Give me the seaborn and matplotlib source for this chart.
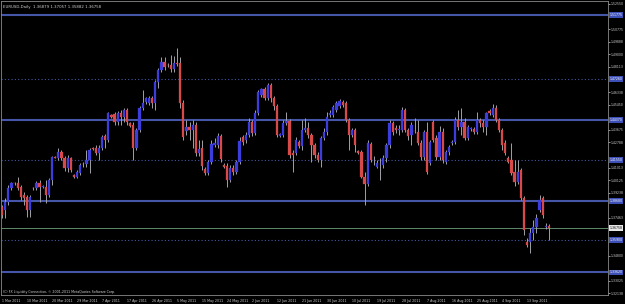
import numpy as np
import pandas as pd
import matplotlib
matplotlib.use("Agg")
import matplotlib.pyplot as plt
import matplotlib.transforms as mtransforms
import seaborn as sns

# ---------------- data (EURUSD, Daily) ----------------
opens = [1.3824, 1.3803, 1.3859, 1.3958, 1.3993, 1.3993, 1.3965, 1.3909, 1.3895, 1.3803,
         1.3958, 1.3958, 1.3993, 1.3965, 1.3965, 1.3909, 1.4014, 1.4176, 1.4169, 1.4212,
         1.4169, 1.4099, 1.4169, 1.4050, 1.4036, 1.4064, 1.4127, 1.4127, 1.4155, 1.4240,
         1.4240, 1.4205, 1.4240, 1.4324, 1.4296, 1.4472, 1.4480, 1.4423, 1.4487, 1.4458,
         1.4508, 1.4416, 1.4402, 1.4240, 1.4367, 1.4522, 1.4564, 1.4557, 1.4592, 1.4557,
         1.4705, 1.4790, 1.4846, 1.4825, 1.4825, 1.4797, 1.4839, 1.4839, 1.4557, 1.4360,
         1.4388, 1.4367, 1.4402, 1.4205, 1.4240, 1.4092, 1.4064, 1.4141, 1.4261, 1.4261,
         1.4324, 1.4120, 1.4113, 1.4014, 1.4099, 1.4071, 1.4141, 1.4317, 1.4296, 1.4331,
         1.4423, 1.4346, 1.4487, 1.4613, 1.4656, 1.4592, 1.4684, 1.4592, 1.4536, 1.4324,
         1.4331, 1.4416, 1.4430, 1.4205, 1.4205, 1.4282, 1.4254, 1.4367, 1.4381, 1.4331,
         1.4261, 1.4191, 1.4155, 1.4310, 1.4353, 1.4472, 1.4472, 1.4508, 1.4536, 1.4564,
         1.4557, 1.4437, 1.4331, 1.4367, 1.4219, 1.4212, 1.4036, 1.3986, 1.4268, 1.4155,
         1.4106, 1.4127, 1.4120, 1.4169, 1.4261, 1.4416, 1.4381, 1.4367, 1.4367, 1.4508,
         1.4367, 1.4331, 1.4360, 1.4353, 1.4275, 1.4176, 1.4353, 1.4134, 1.4423, 1.4310,
         1.4176, 1.4353, 1.4141, 1.4212, 1.4275, 1.4282, 1.4437, 1.4388, 1.4423, 1.4310,
         1.4374, 1.4374, 1.4353, 1.4437, 1.4416, 1.4388, 1.4501, 1.4472, 1.4522, 1.4437,
         1.4367, 1.4275, 1.4169, 1.4155, 1.4071, 1.4000, 1.4085, 1.3887, 1.3577, 1.3577,
         1.3641, 1.3683, 1.3803, 1.3887, 1.3683, 1.36879]
highs = [1.3838, 1.3887, 1.3979, 1.4000, 1.4000, 1.4036, 1.3979, 1.3930, 1.3909, 1.3909,
         1.3965, 1.4007, 1.4014, 1.3979, 1.4014, 1.4029, 1.4184, 1.4184, 1.4240, 1.4226,
         1.4184, 1.4191, 1.4176, 1.4057, 1.4085, 1.4134, 1.4141, 1.4226, 1.4240, 1.4247,
         1.4261, 1.4261, 1.4331, 1.4339, 1.4494, 1.4480, 1.4494, 1.4501, 1.4508, 1.4522,
         1.4522, 1.4423, 1.4423, 1.4381, 1.4536, 1.4649, 1.4599, 1.4606, 1.4606, 1.4719,
         1.4804, 1.4881, 1.4881, 1.4839, 1.4895, 1.4888, 1.4945, 1.4881, 1.4578, 1.4437,
         1.4423, 1.4437, 1.4423, 1.4296, 1.4296, 1.4106, 1.4155, 1.4296, 1.4310, 1.4346,
         1.4339, 1.4134, 1.4134, 1.4120, 1.4120, 1.4155, 1.4317, 1.4331, 1.4353, 1.4451,
         1.4437, 1.4508, 1.4649, 1.4663, 1.4670, 1.4698, 1.4698, 1.4606, 1.4550, 1.4346,
         1.4437, 1.4494, 1.4444, 1.4226, 1.4317, 1.4296, 1.4437, 1.4451, 1.4423, 1.4346,
         1.4275, 1.4212, 1.4324, 1.4381, 1.4494, 1.4508, 1.4543, 1.4571, 1.4585, 1.4578,
         1.4571, 1.4451, 1.4381, 1.4381, 1.4226, 1.4226, 1.4071, 1.4296, 1.4282, 1.4184,
         1.4155, 1.4169, 1.4191, 1.4275, 1.4437, 1.4430, 1.4402, 1.4402, 1.4529, 1.4522,
         1.4381, 1.4423, 1.4451, 1.4437, 1.4296, 1.4367, 1.4423, 1.4296, 1.4437, 1.4331,
         1.4395, 1.4381, 1.4226, 1.4261, 1.4296, 1.4458, 1.4508, 1.4522, 1.4451, 1.4402,
         1.4388, 1.4388, 1.4494, 1.4451, 1.4437, 1.4494, 1.4515, 1.4550, 1.4543, 1.4451,
         1.4381, 1.4296, 1.4184, 1.4275, 1.4155, 1.4155, 1.4099, 1.3902, 1.3605, 1.3676,
         1.3732, 1.3774, 1.3909, 1.3902, 1.3711, 1.37057]
lows = [1.3746, 1.3746, 1.3838, 1.3944, 1.3979, 1.3944, 1.3873, 1.3838, 1.3753, 1.3753,
        1.3944, 1.3944, 1.3859, 1.3958, 1.3852, 1.3895, 1.3979, 1.4169, 1.4155, 1.4155,
        1.4078, 1.4071, 1.4071, 1.4029, 1.4029, 1.4050, 1.4106, 1.4106, 1.4064, 1.4226,
        1.4191, 1.4155, 1.4226, 1.4240, 1.4282, 1.4451, 1.4402, 1.4402, 1.4402, 1.4423,
        1.4402, 1.4388, 1.4155, 1.4226, 1.4353, 1.4508, 1.4550, 1.4543, 1.4522, 1.4508,
        1.4663, 1.4776, 1.4790, 1.4811, 1.4776, 1.4776, 1.4818, 1.4522, 1.4296, 1.4331,
        1.4296, 1.4240, 1.4184, 1.4184, 1.4085, 1.4050, 1.4050, 1.4127, 1.4247, 1.4240,
        1.4141, 1.4099, 1.3965, 1.4000, 1.4050, 1.4057, 1.4127, 1.4261, 1.4275, 1.4317,
        1.4324, 1.4331, 1.4472, 1.4599, 1.4578, 1.4578, 1.4564, 1.4508, 1.4317, 1.4317,
        1.4317, 1.4402, 1.4169, 1.4071, 1.4191, 1.4240, 1.4226, 1.4353, 1.4310, 1.4141,
        1.4169, 1.4141, 1.4106, 1.4296, 1.4331, 1.4458, 1.4458, 1.4494, 1.4522, 1.4529,
        1.4423, 1.4226, 1.4317, 1.4212, 1.4198, 1.4029, 1.3838, 1.3972, 1.4141, 1.4120,
        1.4099, 1.4014, 1.4099, 1.4141, 1.4240, 1.4331, 1.4346, 1.4331, 1.4353, 1.4353,
        1.4296, 1.4261, 1.4346, 1.4261, 1.4155, 1.4155, 1.4057, 1.4120, 1.4282, 1.4155,
        1.4155, 1.4134, 1.4127, 1.4191, 1.4261, 1.4268, 1.4367, 1.4331, 1.4296, 1.4296,
        1.4360, 1.4339, 1.4339, 1.4388, 1.4353, 1.4331, 1.4472, 1.4458, 1.4423, 1.4353,
        1.4226, 1.4191, 1.4134, 1.4050, 1.3972, 1.3986, 1.3873, 1.3626, 1.3542, 1.3499,
        1.3591, 1.3641, 1.3789, 1.3746, 1.3669, 1.35882]
closes = [1.3767, 1.3859, 1.3958, 1.3993, 1.3990, 1.3958, 1.3895, 1.3887, 1.3803, 1.3895,
          1.3955, 1.3993, 1.3965, 1.3972, 1.3909, 1.4014, 1.4176, 1.4172, 1.4212, 1.4169,
          1.4099, 1.4169, 1.4085, 1.4036, 1.4071, 1.4120, 1.4124, 1.4155, 1.4226, 1.4233,
          1.4205, 1.4240, 1.4317, 1.4296, 1.4487, 1.4458, 1.4423, 1.4487, 1.4458, 1.4508,
          1.4423, 1.4395, 1.4240, 1.4367, 1.4522, 1.4557, 1.4592, 1.4592, 1.4557, 1.4705,
          1.4790, 1.4846, 1.4811, 1.4822, 1.4797, 1.4839, 1.4835, 1.4557, 1.4317, 1.4388,
          1.4367, 1.4402, 1.4205, 1.4233, 1.4113, 1.4064, 1.4141, 1.4268, 1.4275, 1.4324,
          1.4162, 1.4106, 1.4014, 1.4099, 1.4071, 1.4141, 1.4289, 1.4282, 1.4331, 1.4423,
          1.4346, 1.4487, 1.4635, 1.4656, 1.4592, 1.4684, 1.4592, 1.4536, 1.4331, 1.4339,
          1.4416, 1.4430, 1.4191, 1.4191, 1.4296, 1.4254, 1.4367, 1.4381, 1.4331, 1.4261,
          1.4191, 1.4155, 1.4310, 1.4353, 1.4458, 1.4487, 1.4529, 1.4557, 1.4571, 1.4543,
          1.4437, 1.4331, 1.4367, 1.4261, 1.4205, 1.4036, 1.3986, 1.4275, 1.4155, 1.4158,
          1.4134, 1.4130, 1.4169, 1.4261, 1.4416, 1.4353, 1.4367, 1.4374, 1.4508, 1.4367,
          1.4324, 1.4402, 1.4357, 1.4275, 1.4176, 1.4353, 1.4071, 1.4282, 1.4296, 1.4176,
          1.4353, 1.4155, 1.4212, 1.4247, 1.4282, 1.4437, 1.4388, 1.4423, 1.4310, 1.4388,
          1.4377, 1.4353, 1.4437, 1.4416, 1.4388, 1.4487, 1.4487, 1.4522, 1.4437, 1.4367,
          1.4261, 1.4205, 1.4141, 1.4064, 1.4000, 1.4071, 1.3887, 1.3662, 1.3556, 1.3641,
          1.3683, 1.3746, 1.3873, 1.3767, 1.3690, 1.36758]

date_labels = ["1 Mar 2011", "10 Mar 2011", "20 Mar 2011", "29 Mar 2011", "7 Apr 2011",
               "17 Apr 2011", "26 Apr 2011", "5 May 2011", "15 May 2011", "24 May 2011",
               "2 Jun 2011", "12 Jun 2011", "21 Jun 2011", "30 Jun 2011", "10 Jul 2011",
               "19 Jul 2011", "28 Jul 2011", "7 Aug 2011", "16 Aug 2011", "25 Aug 2011",
               "4 Sep 2011", "13 Sep 2011"]
date_label_bars = [0, 8, 16, 24, 32, 40, 48, 56, 64, 72, 80, 88, 96, 104, 112, 120,
                   128, 136, 144, 152, 160, 168]
price_ticks = [1.52550, 1.51663, 1.50775, 1.49888, 1.49000, 1.48113, 1.47225, 1.46338,
               1.45450, 1.44563, 1.43675, 1.42788, 1.41900, 1.41013, 1.40125, 1.39238,
               1.38350, 1.37463, 1.36575, 1.35688, 1.34800, 1.33913, 1.33025, 1.32138]
solid_levels = [1.51775, 1.44370, 1.38680, 1.33620]
dotted_levels = [1.47260, 1.41550, 1.35900]
last_price = 1.36758
title_text = "EURUSD,Daily  1.36879 1.37057 1.35882 1.36758"
copyright_text = "(C) FX Liquidity Connection, \u00a9 2001-2011 MetaQuotes Software Corp."

# ---------------- styling ----------------
sns.set_theme(style="dark", rc={
    "axes.facecolor": "black",
    "figure.facecolor": "black",
    "axes.edgecolor": "#8a8a8a",
    "text.color": "#d0d0d0",
    "xtick.color": "#d0d0d0",
    "ytick.color": "#d0d0d0",
})
plt.rcParams["font.family"] = ["DejaVu Sans"]

BULL = "#3d3ddc"
BEAR = "#d64a4a"
WICK = "#a0a0a8"
LEVEL = "#4556a8"

df = pd.DataFrame({"open": opens, "high": highs, "low": lows, "close": closes})
df["bar"] = np.arange(len(df))
df["bottom"] = df[["open", "close"]].min(axis=1)
df["height"] = (df["close"] - df["open"]).abs().clip(lower=0.0003)
df["color"] = np.where(df["close"] >= df["open"], BULL, BEAR)

fig = plt.figure(figsize=(6.25, 3.04), dpi=100)
ax = fig.add_axes([1 / 625, 9 / 304, 607 / 625, 294 / 304])

# levels
for lv in solid_levels:
    ax.axhline(lv, color=LEVEL, lw=1.5, zorder=1)
for lv in dotted_levels:
    ax.axhline(lv, color=LEVEL, lw=0.8, ls=(0, (1, 2)), zorder=1)
ax.axhline(last_price, color="#5e8c6c", lw=0.7, zorder=1)

# candles
ax.vlines(df["bar"], df["low"], df["high"], color=WICK, lw=0.7, zorder=2)
ax.bar(df["bar"], df["height"], bottom=df["bottom"], width=0.72,
       color=df["color"], edgecolor=df["color"], linewidth=0.2, zorder=3)

ax.set_xlim(-0.32, 193.9)
ax.set_ylim(1.3203, 1.5276)

# right price axis: regular labels hidden where a level label sits on top
all_levels = solid_levels + dotted_levels + [last_price]
shown_ticks = [t for t in price_ticks if min(abs(t - lv) for lv in all_levels) > 0.0045]
ax.yaxis.tick_right()
ax.set_yticks(shown_ticks)
ax.set_yticklabels([f"{v:.5f}" for v in shown_ticks])
ax.tick_params(axis="y", length=1.5, width=0.5, pad=0.5, labelsize=2.25,
               colors="#d0d0d0", direction="out")

# bottom dates
ax.set_xticks(date_label_bars)
ax.set_xticklabels(date_labels, ha="left")
ax.tick_params(axis="x", length=2, width=0.5, pad=0.8, labelsize=2.3,
               colors="#d0d0d0", direction="out")
ax.set_xlabel("")
ax.set_ylabel("")
ax.grid(False)

for s in ax.spines.values():
    s.set_color("#8a8a8a")
    s.set_linewidth(0.6)

# highlighted level labels on the price scale
trans = mtransforms.blended_transform_factory(ax.transAxes, ax.transData)
for lv in solid_levels + dotted_levels:
    ax.text(1.0025, lv, f"{lv:.5f}", transform=trans, fontsize=2.25, color="white",
            va="center", ha="left", clip_on=False, zorder=10,
            bbox=dict(boxstyle="square,pad=0.3", fc="#3c50b8", ec="none"))
ax.text(1.0025, last_price, f"{last_price:.5f}", transform=trans, fontsize=2.25,
        color="black", va="center", ha="left", clip_on=False, zorder=10,
        bbox=dict(boxstyle="square,pad=0.3", fc="#e8e8e8", ec="none"))

ax.text(0.004, 0.985, title_text, transform=ax.transAxes, fontsize=2.8,
        color="#d0d0d0", va="top", ha="left")
ax.text(0.004, 0.004, copyright_text, transform=ax.transAxes, fontsize=2.3,
        color="#d0d0d0", va="bottom", ha="left")

fig.savefig("out.png", dpi=100, facecolor="black")
